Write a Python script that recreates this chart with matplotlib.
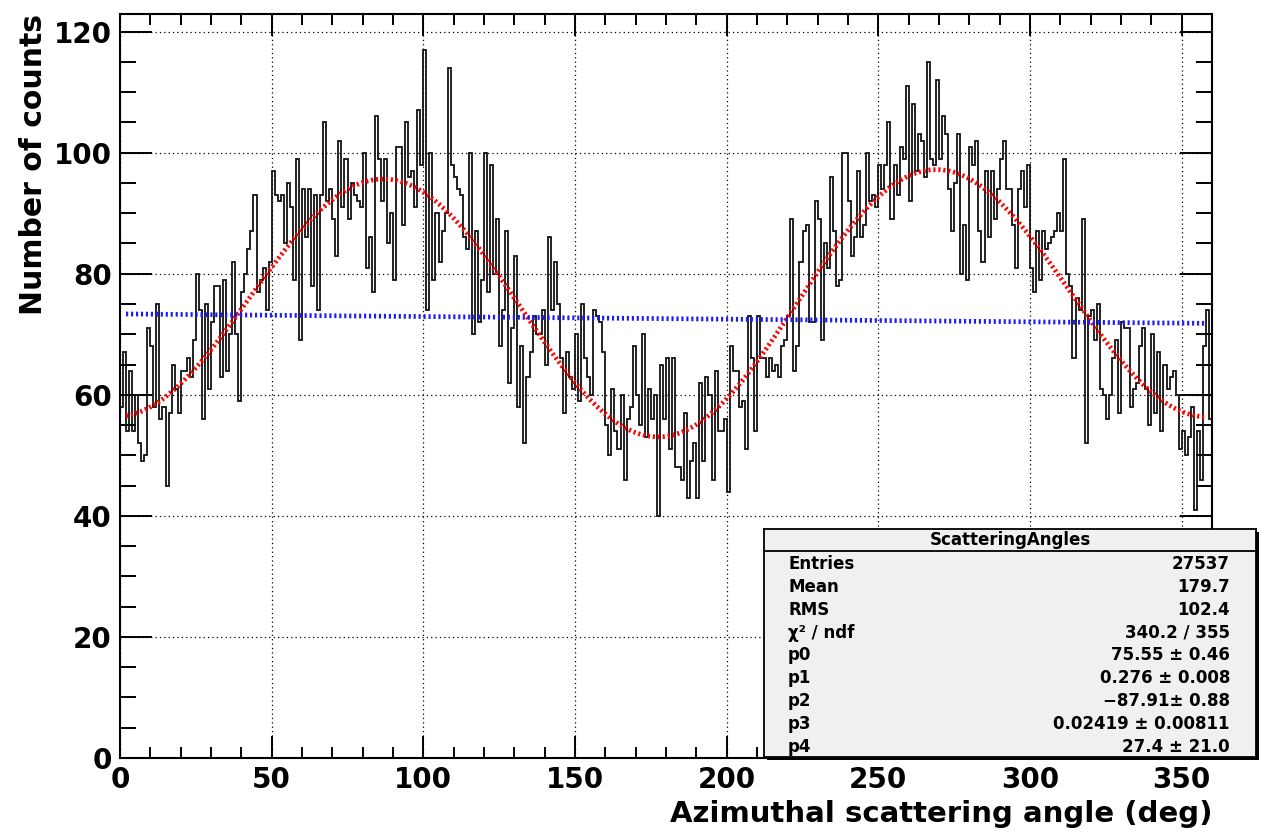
import numpy as np
import matplotlib
matplotlib.use("Agg")
import matplotlib.pyplot as plt
from matplotlib.patches import Rectangle
from matplotlib.ticker import MultipleLocator

# counts per 1 degree bin, 0..359
counts = [
    58, 67, 54, 64, 54, 60, 52, 49, 50, 71, 68, 58, 75, 56, 58, 45, 57, 65, 61, 57,
    64, 64, 66, 63, 69, 80, 74, 56, 75, 61, 72, 78, 78, 63, 79, 64, 70, 82, 70, 59,
    77, 80, 84, 87, 93,
    77, 79, 81, 74, 82, 97, 93, 92, 93, 85, 95, 91, 79, 99, 69, 94, 86, 94, 78, 93,
    74, 93, 105, 92, 94, 89, 83, 102, 91, 99, 89, 95, 93, 92, 91, 100, 81, 86, 77, 106,
    99, 92, 99, 85, 90,
    79, 101, 101, 88, 105, 96, 97, 91, 107, 98, 117, 74, 100, 79, 90, 82, 87, 90, 114, 98,
    96, 94, 93, 86, 84, 100, 70, 87, 72, 79, 100, 77, 98, 80, 89, 68, 74, 87, 62, 71,
    83, 58, 68, 52,
    63, 67, 73, 70, 70, 74, 65, 86, 74, 82, 75, 66, 57, 67, 63, 61, 70, 59, 75, 66,
    63, 60, 74, 73, 72, 67, 55, 50, 61, 54, 51, 60, 46, 56, 58, 68, 60, 55, 70, 53,
    61, 56, 60, 40,
    65, 56, 66, 51, 66, 48, 48, 46, 57, 43, 49, 52, 43, 62, 49, 63, 60, 46, 64, 54,
    54, 56, 44, 68, 64, 64, 58, 59, 51, 73, 66, 54, 73, 66, 66, 63, 66, 64, 65, 63,
    68, 69, 73, 89,
    64, 68, 82, 87, 88, 72, 72, 92, 89, 69, 85, 81, 96, 87, 78, 79, 100, 100, 92, 83,
    86, 97, 86, 88, 100, 92, 93, 91, 98, 94, 98, 105, 89, 98, 93, 101, 99, 111, 92, 108,
    97, 103, 102, 96, 115,
    99, 98, 112, 99, 106, 103, 94, 87, 95, 103, 80, 88, 79, 101, 98, 102, 87, 82, 97, 86,
    97, 89, 94, 99, 102, 94, 94, 88, 81, 94, 97, 91, 98, 81, 77, 87, 79, 87, 84, 85,
    86, 87, 90, 87, 99,
    80, 78, 66, 76, 74, 89, 52, 73, 74, 69, 75, 61, 60, 56, 60, 66, 69, 57, 72, 71,
    71, 58, 61, 62, 68, 71, 61, 55, 70, 57, 67, 54, 65, 61, 63, 64, 60, 51, 54, 50,
    53, 58, 41, 54, 46, 68, 74, 56,
]
bin_edges = np.arange(0, 361, 1)

# fit parameters shown in the stats box
p0, p1, p2, p3, p4 = 75.55, 0.276, -87.91, 0.02419, 27.4
fit_range = (2, 358)

# flat (blue) fit line, end values
flat_x = [2, 358]
flat_y = [73.35, 71.8]

stats_title = "ScatteringAngles"
stats_names = ["Entries", "Mean", "RMS", "\u03c7\u00b2 / ndf", "p0", "p1", "p2", "p3", "p4"]
stats_values = ["27537", "179.7", "102.4", "340.2 / 355", "75.55 \u00b1 0.46",
                "0.276 \u00b1 0.008", "\u221287.91\u00b1 0.88",
                "0.02419 \u00b1 0.00811", "27.4 \u00b1 21.0"]

plt.rcParams['font.family'] = ['DejaVu Sans']
plt.rcParams['font.weight'] = 'bold'

W, H = 1272, 834
fig = plt.figure(figsize=(W / 100, H / 100), dpi=100)
ax = fig.add_axes([120 / W, 76 / H, 1092 / W, 744 / H])

ax.stairs(counts, bin_edges, baseline=None, color='#111111', lw=1.3, zorder=3)

def fit_func(x):
    r = np.radians
    return p0 * (1 + p1 * np.cos(2 * r(x + p2)) + p3 * np.cos(r(x + p4)))

xf = np.linspace(fit_range[0], fit_range[1], 600)
ax.plot(xf, fit_func(xf), color='red', lw=3.4, ls=(0, (0.45, 0.6)),
        solid_capstyle='butt', dash_capstyle='butt', zorder=4)
ax.plot(flat_x, flat_y, color='#1a1aff', lw=3.4, ls=(0, (0.45, 0.6)),
        dash_capstyle='butt', zorder=4)

ax.set_xlim(0, 360)
ax.set_ylim(0, 122.9)
ax.xaxis.set_major_locator(MultipleLocator(50))
ax.xaxis.set_minor_locator(MultipleLocator(10))
ax.yaxis.set_major_locator(MultipleLocator(20))
ax.yaxis.set_minor_locator(MultipleLocator(5))

ax.grid(True, which='major', color='black', lw=0.9, ls=(0, (1, 2.5)))
for s in ax.spines.values():
    s.set_linewidth(1.5)

ax.tick_params(which='both', direction='in', top=True, right=True, width=1.4,
               labelsize=20, colors='black')
ax.tick_params(axis='x', which='major', length=16, pad=6)
ax.tick_params(axis='x', which='minor', length=8)
ax.tick_params(axis='y', which='major', length=23, pad=6)
ax.tick_params(axis='y', which='minor', length=11.5)

ax.set_xlabel("Azimuthal scattering angle (deg)", fontsize=21, fontweight='bold',
              loc='right', va='center')
ax.xaxis.set_label_coords(1.0, -56 / 744)
ax.set_ylabel("Number of counts", fontsize=21.5, fontweight='bold', loc='top',
              va='center')
ax.yaxis.set_label_coords(-87 / 1092, 1.0)

# stats box
bx, by, bw, bh = 764 / W, (H - 757) / H, 492 / W, 228 / H
fig.patches.append(Rectangle((bx + 3 / W, by - 3 / H), bw, bh, transform=fig.transFigure,
                             facecolor='black', edgecolor='none', zorder=5))
sb = fig.add_axes([bx, by, bw, bh], zorder=6)
sb.set_facecolor('#f0f0f0')
sb.set_xticks([])
sb.set_yticks([])
for s in sb.spines.values():
    s.set_linewidth(1.3)
sb.set_xlim(0, 1)
sb.set_ylim(0, 1)
sb.axhline(0.9035, color='black', lw=1.3)
sb.text(0.5, 0.952, stats_title, ha='center', va='center', fontsize=12, fontweight='bold')
row_y = np.linspace(0.846, 0.045, len(stats_names))
for yy, name, val in zip(row_y, stats_names, stats_values):
    sb.text(0.049, yy, name, ha='left', va='center', fontsize=12, fontweight='bold')
    sb.text(0.947, yy, val, ha='right', va='center', fontsize=12, fontweight='bold')

fig.savefig("out.png", dpi=100)
